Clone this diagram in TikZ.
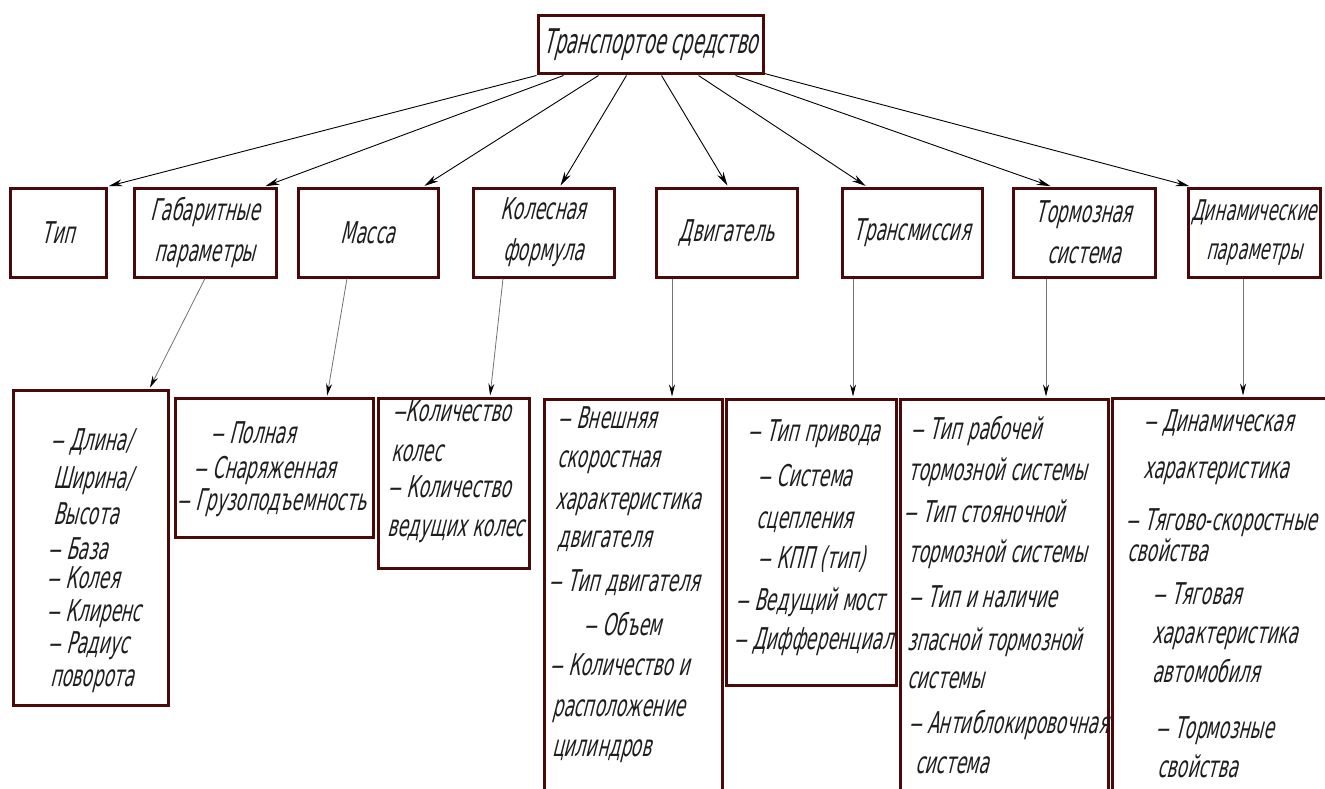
\documentclass[tikz,border=0pt]{standalone}
\usepackage{fontspec}
\usetikzlibrary{arrows.meta}
\newfontfamily\gostfont{DejaVu Sans}[FakeStretch=0.57,FakeSlant=0.25]
\newfontfamily\gosttitle{DejaVu Sans}[FakeStretch=0.53,FakeSlant=0.25]
\newfontfamily\gostdash{DejaVu Sans}[FakeStretch=0.9,FakeSlant=0.25]
\newcommand\dsh{{\gostdash –}}
\definecolor{boxcol}{HTML}{4A0A0A}
\definecolor{txtcol}{HTML}{1E1E1E}
\begin{document}
\begin{tikzpicture}[x=1pt,y=-1pt,
  box/.style={draw=boxcol, line width=3pt, fill=white, rectangle, inner sep=0pt},
  lbl/.style={font=\gostfont\fontsize{30}{41}\selectfont, text=txtcol, align=center},
  item/.style={font=\gostfont\fontsize{30}{36}\selectfont, text=txtcol, anchor=base west, inner sep=0pt},
  link/.style={draw=black, line width=0.9pt, shorten >=1pt, -{Stealth[length=14pt,width=7pt]}},
  sublink/.style={draw=black!55, line width=0.8pt, shorten >=1pt, -{Stealth[length=12pt,width=6pt,color=black]}}
]
\clip (0,0) rectangle (1325,789);
\fill[white] (0,0) rectangle (1325,789);

% top
\node[box, minimum width=225pt, minimum height=58pt, font=\gosttitle\fontsize{34}{40}\selectfont, text=txtcol] (top) at (650.5,45) {Транспортое средство};

% second row
\node[box, lbl, minimum width=96pt,  minimum height=89pt] (tip)   at (58,232.5)   {Тип};
\node[box, lbl, minimum width=142pt, minimum height=89pt] (gab)   at (205,232.5)  {Габаритные\\параметры};
\node[box, lbl, minimum width=140pt, minimum height=89pt] (mass)  at (368,232.5)  {Масса};
\node[box, lbl, minimum width=141pt, minimum height=89pt] (kol)   at (543.5,232.5){Колесная\\формула};
\node[box, lbl, minimum width=141pt, minimum height=89pt] (dvig)  at (726.5,232.5){Двигатель};
\node[box, lbl, minimum width=140pt, minimum height=89pt] (trans) at (912,232.5)  {Трансмиссия};
\node[box, lbl, minimum width=142pt, minimum height=89pt] (torm)  at (1084,232.5) {Тормозная\\система};
\node[box, lbl, minimum width=132pt, minimum height=89pt, inner sep=0pt, font=\gostfont\fontsize{28.5}{39}\selectfont] (dyn) at (1254,232.5) {Динамические\\параметры};

% top-level connectors
\draw[link] (top.south west) -- (tip.north east);
\draw[link] ([xshift=27pt]top.south west) -- ([xshift=-13pt]gab.north east);
\draw[link] ([xshift=62pt]top.south west) -- ([xshift=-16pt]mass.north east);
\draw[link] ([xshift=90pt]top.south west) -- ([xshift=16.5pt]kol.north);
\draw[link] ([xshift=125pt]top.south west) -- ([xshift=1.5pt]dvig.north);
\draw[link] ([xshift=162pt]top.south west) -- ([xshift=26pt]trans.north west);
\draw[link] ([xshift=199pt]top.south west) -- ([xshift=40pt]torm.north west);
\draw[link] ([yshift=2pt]top.south east) -- ([xshift=4pt]dyn.north west);

% bottom boxes
\node[box, minimum width=155pt, minimum height=315pt] (gabL)   at (90.5,547.5) {};
\node[box, minimum width=198pt, minimum height=139pt] (massL)  at (274,467.5)  {};
\node[box, minimum width=151pt, minimum height=170pt] (kolL)   at (453.5,483)  {};
\node[box, minimum width=178pt, minimum height=421pt] (dvigL)  at (633,609.5)  {};
\node[box, minimum width=170pt, minimum height=286pt] (transL) at (811,542)    {};
\node[box, minimum width=208pt, minimum height=421pt] (tormL)  at (1004,609.5) {};
\node[box, minimum width=228pt, minimum height=422pt] (dynL)   at (1226,609)   {};

% second-level connectors
\draw[sublink] (gab.south) -- ([xshift=-20pt]gabL.north east);
\draw[sublink] ([xshift=-21pt]mass.south) -- ([xshift=53pt]massL.north);
\draw[sublink] ([xshift=-40.5pt]kol.south) -- ([xshift=36.5pt]kolL.north);
\draw[sublink] ([xshift=-54.5pt]dvig.south) -- ([xshift=-54.5pt]dvig.south |- dvigL.north);
\draw[sublink] ([xshift=-59pt]trans.south) -- ([xshift=-59pt]trans.south |- transL.north);
\draw[sublink] ([xshift=-38pt]torm.south) -- ([xshift=-38pt]torm.south |- tormL.north);
\draw[sublink] ([xshift=-11pt]dyn.south) -- ([xshift=-11pt]dyn.south |- dynL.north);

% Габаритные list
\node[item] (g1) at (50,450) {\dsh{} Длина/};
\node[item] (g2) at (53,488) {Ширина/};
\node[item] (g3) at (53,524) {Высота};
\node[item] (g4) at (47,559) {\dsh{} База};
\node[item] (g5) at (46,588) {\dsh{} Колея};
\node[item] (g6) at (46,621) {\dsh{} Клиренс};
\node[item] (g7) at (47,653) {\dsh{} Радиус};
\node[item] (g8) at (50,686) {поворота};

% Масса list
\node[item] (m1) at (210,443) {\dsh{} Полная};
\node[item] (m2) at (193,478) {\dsh{} Снаряженная};
\node[item] (m3) at (176,510) {\dsh{} Грузоподъемность};

% Колесная формула list
\node[item] (k1) at (392,421) {\dsh Количество};
\node[item] (k2) at (391,461) {колес};
\node[item] (k3) at (387,497) {\dsh{} Количество};
\node[item] (k4) at (387,536) {ведущих колес};

% Двигатель list
\node[item] (d1) at (557,428) {\dsh{} Внешняя};
\node[item] (d2) at (557,467) {скоростная};
\node[item] (d3) at (555,509) {характеристика};
\node[item] (d4) at (557,547) {двигателя};
\node[item] (d5) at (548,591) {\dsh{} Тип двигателя};
\node[item] (d6) at (583,635) {\dsh{} Объем};
\node[item] (d7) at (549,675) {\dsh{} Количество и};
\node[item] (d8) at (552,716) {расположение};
\node[item] (d9) at (552,756) {цилиндров};

% Трансмиссия list
\node[item] (t1) at (747,441) {\dsh{} Тип привода};
\node[item] (t2) at (757,486) {\dsh{} Система};
\node[item] (t3) at (756,528) {сцепления};
\node[item] (t4) at (757,568) {\dsh{} КПП (тип)};
\node[item] (t5) at (735,610) {\dsh{} Ведущий мост};
\node[item] (t6) at (733,649) {\dsh{} Дифференциал};

% Тормозная система list
\node[item] (b1) at (910,439) {\dsh{} Тип рабочей};
\node[item] (b2) at (908,480) {тормозной системы};
\node[item] (b3) at (903,522) {\dsh{} Тип стояночной};
\node[item] (b4) at (908,562) {тормозной системы};
\node[item] (b5) at (908,607) {\dsh{} Тип и наличие};
\node[item] (b6) at (907,650) {зпасной тормозной};
\node[item] (b7) at (907,688) {системы};
\node[item] (b8) at (908,733) {\dsh{} Антиблокировочная};
\node[item] (b9) at (915,773) {система};

% Динамические параметры list
\node[item] (p1) at (1143,431) {\dsh{} Динамическая};
\node[item] (p2) at (1143,478) {характеристика};
\node[item] (p3) at (1125,530) {\dsh{} Тягово-скоростные};
\node[item] (p4) at (1127,561) {свойства};
\node[item] (p5) at (1152,604) {\dsh{} Тяговая};
\node[item] (p6) at (1152,643) {характеристика};
\node[item] (p7) at (1152,682) {автомобиля};
\node[item] (p8) at (1155,738) {\dsh{} Тормозные};
\node[item] (p9) at (1157,777) {свойства};
\end{tikzpicture}
\end{document}
